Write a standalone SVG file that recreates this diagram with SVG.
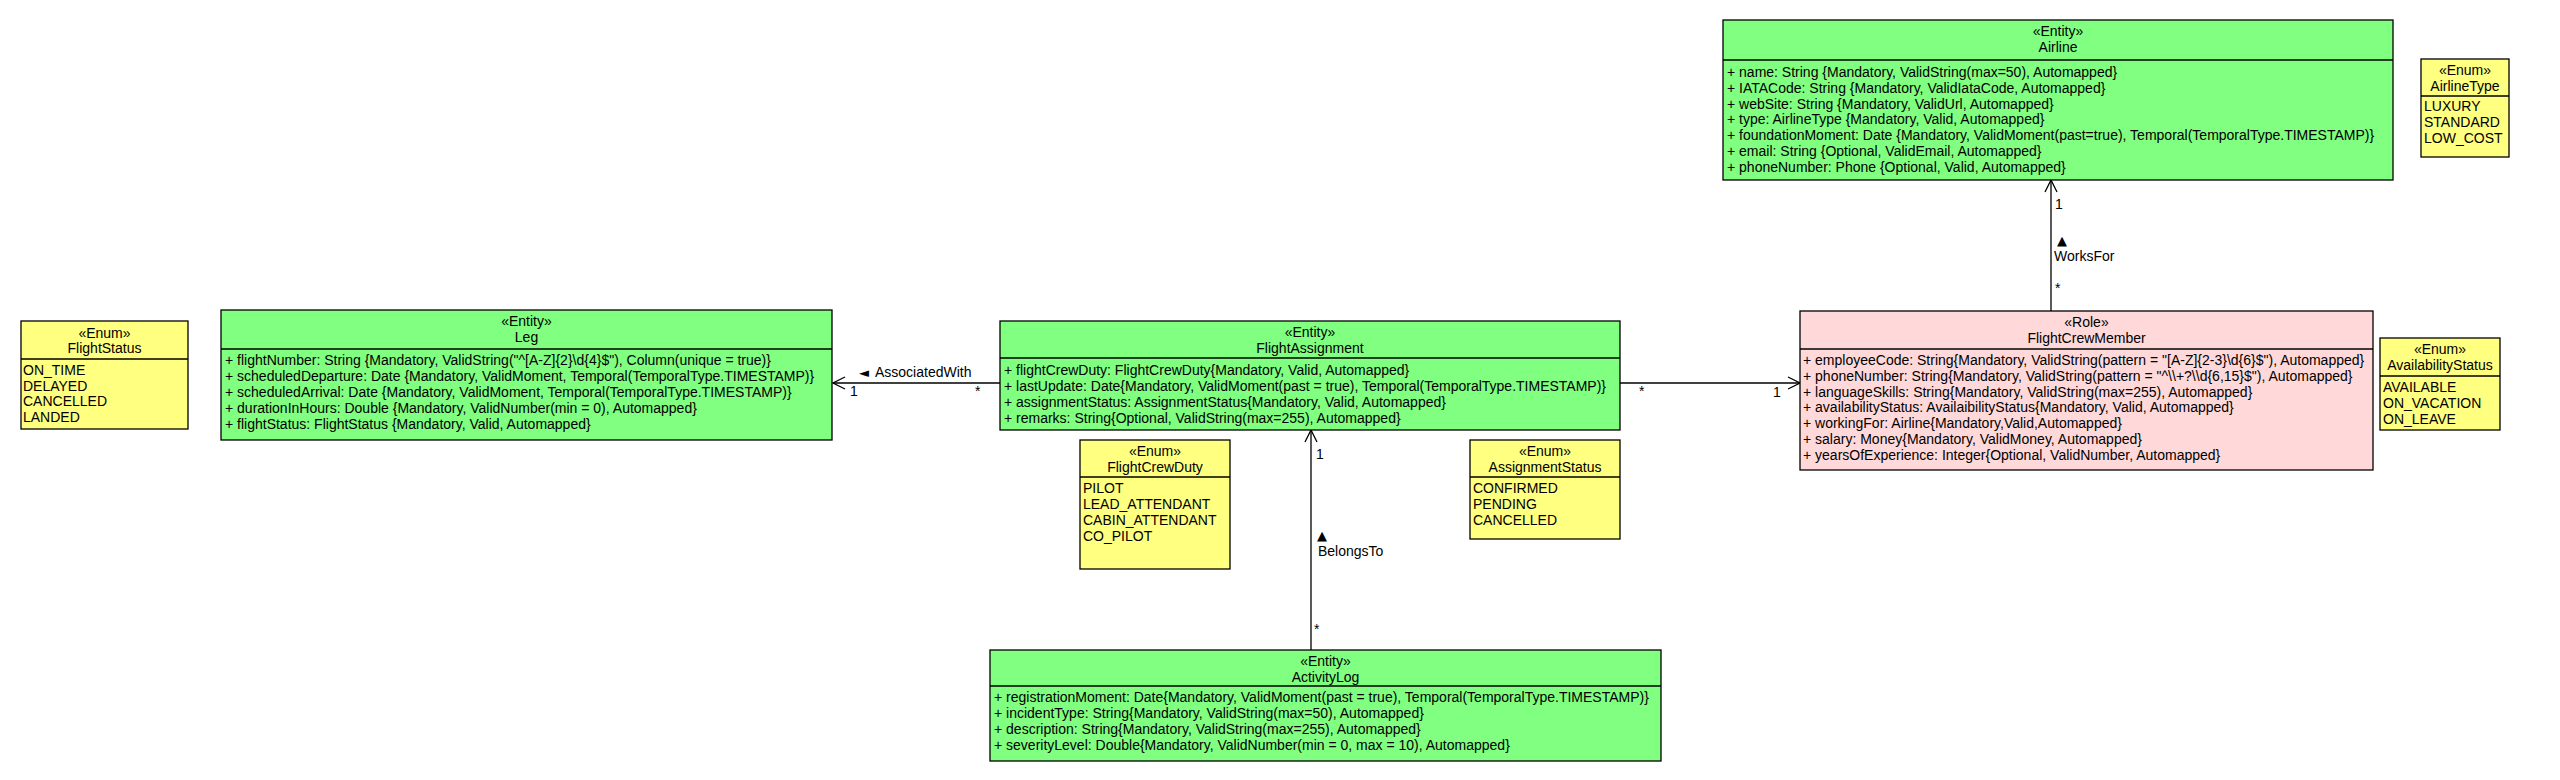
<svg xmlns="http://www.w3.org/2000/svg" width="2560" height="780" viewBox="0 0 2560 780">
<style>
text{font-family:"Liberation Sans",Arial,sans-serif;font-size:14px;fill:#000}
.c{text-anchor:middle}
.box{stroke:#000;stroke-width:1.3}
.ent{fill:#80FF80}
.enm{fill:#FFFF80}
.role{fill:#FFD9D9}
.div{stroke:#000;stroke-width:1.3}
.con{stroke:#000;stroke-width:1.3;fill:none}
.sym{font-family:"DejaVu Sans",sans-serif;font-size:13px}
</style>
<defs>
<marker id="open" markerUnits="userSpaceOnUse" viewBox="0 0 14 14" refX="13" refY="7" markerWidth="14" markerHeight="14" orient="auto">
<path d="M1,1 L13,7 L1,13" fill="none" stroke="#000" stroke-width="1.3"/>
</marker>
</defs>
<rect width="2560" height="780" fill="#fff"/>

<g id="connectors">
<line class="con" x1="1000" y1="383" x2="833" y2="383" marker-end="url(#open)"/>
<text x="859" y="377"><tspan class="sym">◄</tspan><tspan x="875">AssociatedWith</tspan></text>
<text x="850" y="396">1</text>
<text x="975" y="396">*</text>
<line class="con" x1="1620" y1="383" x2="1800" y2="383" marker-end="url(#open)"/>
<text x="1639" y="396">*</text>
<text x="1773" y="397">1</text>
<line class="con" x1="2051" y1="311" x2="2051" y2="180" marker-end="url(#open)"/>
<text x="2055" y="209">1</text>
<text class="sym" x="2057" y="245">▲</text>
<text x="2054" y="261">WorksFor</text>
<text x="2055" y="293">*</text>
<line class="con" x1="1311" y1="650" x2="1311" y2="430" marker-end="url(#open)"/>
<text x="1316" y="459">1</text>
<text class="sym" x="1317" y="540">▲</text>
<text x="1318" y="556">BelongsTo</text>
<text x="1314" y="634">*</text>
</g>

<g id="Airline">
<rect class="box ent" x="1723" y="20" width="670" height="160"/>
<line class="div" x1="1723" y1="60" x2="2393" y2="60"/>
<text class="c" x="2058" y="36">«Entity»</text>
<text class="c" x="2058" y="52">Airline</text>
<text x="1727" y="77">+ name: String {Mandatory, ValidString(max=50), Automapped}</text>
<text x="1727" y="92.8">+ IATACode: String {Mandatory, ValidIataCode, Automapped}</text>
<text x="1727" y="108.6">+ webSite: String {Mandatory, ValidUrl, Automapped}</text>
<text x="1727" y="124.4">+ type: AirlineType {Mandatory, Valid, Automapped}</text>
<text x="1727" y="140.2">+ foundationMoment: Date {Mandatory, ValidMoment(past=true), Temporal(TemporalType.TIMESTAMP)}</text>
<text x="1727" y="156">+ email: String {Optional, ValidEmail, Automapped}</text>
<text x="1727" y="171.8">+ phoneNumber: Phone {Optional, Valid, Automapped}</text>
</g>

<g id="AirlineType">
<rect class="box enm" x="2421" y="59" width="88" height="98"/>
<line class="div" x1="2421" y1="96" x2="2509" y2="96"/>
<text class="c" x="2465" y="75">«Enum»</text>
<text class="c" x="2465" y="91">AirlineType</text>
<text x="2424" y="111">LUXURY</text>
<text x="2424" y="127">STANDARD</text>
<text x="2424" y="143">LOW_COST</text>
</g>

<g id="FlightStatus">
<rect class="box enm" x="21" y="321" width="167" height="108"/>
<line class="div" x1="21" y1="359" x2="188" y2="359"/>
<text class="c" x="104.5" y="338">«Enum»</text>
<text class="c" x="104.5" y="353">FlightStatus</text>
<text x="23" y="375">ON_TIME</text>
<text x="23" y="390.7">DELAYED</text>
<text x="23" y="406.4">CANCELLED</text>
<text x="23" y="422.1">LANDED</text>
</g>

<g id="Leg">
<rect class="box ent" x="221" y="310" width="611" height="130"/>
<line class="div" x1="221" y1="349" x2="832" y2="349"/>
<text class="c" x="526.5" y="326">«Entity»</text>
<text class="c" x="526.5" y="342">Leg</text>
<text x="225" y="365">+ flightNumber: String {Mandatory, ValidString("^[A-Z]{2}\d{4}$"), Column(unique = true)}</text>
<text x="225" y="381">+ scheduledDeparture: Date {Mandatory, ValidMoment, Temporal(TemporalType.TIMESTAMP)}</text>
<text x="225" y="397">+ scheduledArrival: Date {Mandatory, ValidMoment, Temporal(TemporalType.TIMESTAMP)}</text>
<text x="225" y="413">+ durationInHours: Double {Mandatory, ValidNumber(min = 0), Automapped}</text>
<text x="225" y="429">+ flightStatus: FlightStatus {Mandatory, Valid, Automapped}</text>
</g>

<g id="FlightAssignment">
<rect class="box ent" x="1000" y="321" width="620" height="109"/>
<line class="div" x1="1000" y1="358" x2="1620" y2="358"/>
<text class="c" x="1310" y="337">«Entity»</text>
<text class="c" x="1310" y="353">FlightAssignment</text>
<text x="1004" y="375">+ flightCrewDuty: FlightCrewDuty{Mandatory, Valid, Automapped}</text>
<text x="1004" y="391">+ lastUpdate: Date{Mandatory, ValidMoment(past = true), Temporal(TemporalType.TIMESTAMP)}</text>
<text x="1004" y="407">+ assignmentStatus: AssignmentStatus{Mandatory, Valid, Automapped}</text>
<text x="1004" y="423">+ remarks: String{Optional, ValidString(max=255), Automapped}</text>
</g>

<g id="FlightCrewDuty">
<rect class="box enm" x="1080" y="440" width="150" height="129"/>
<line class="div" x1="1080" y1="477" x2="1230" y2="477"/>
<text class="c" x="1155" y="456">«Enum»</text>
<text class="c" x="1155" y="472">FlightCrewDuty</text>
<text x="1083" y="493">PILOT</text>
<text x="1083" y="509">LEAD_ATTENDANT</text>
<text x="1083" y="525">CABIN_ATTENDANT</text>
<text x="1083" y="541">CO_PILOT</text>
</g>

<g id="AssignmentStatus">
<rect class="box enm" x="1470" y="440" width="150" height="99"/>
<line class="div" x1="1470" y1="477" x2="1620" y2="477"/>
<text class="c" x="1545" y="456">«Enum»</text>
<text class="c" x="1545" y="472">AssignmentStatus</text>
<text x="1473" y="493">CONFIRMED</text>
<text x="1473" y="509">PENDING</text>
<text x="1473" y="525">CANCELLED</text>
</g>

<g id="ActivityLog">
<rect class="box ent" x="990" y="650" width="671" height="111"/>
<line class="div" x1="990" y1="686" x2="1661" y2="686"/>
<text class="c" x="1325.5" y="666">«Entity»</text>
<text class="c" x="1325.5" y="682">ActivityLog</text>
<text x="994" y="702">+ registrationMoment: Date{Mandatory, ValidMoment(past = true), Temporal(TemporalType.TIMESTAMP)}</text>
<text x="994" y="718">+ incidentType: String{Mandatory, ValidString(max=50), Automapped}</text>
<text x="994" y="734">+ description: String{Mandatory, ValidString(max=255), Automapped}</text>
<text x="994" y="750">+ severityLevel: Double{Mandatory, ValidNumber(min = 0, max = 10), Automapped}</text>
</g>

<g id="FlightCrewMember">
<rect class="box role" x="1800" y="311" width="573" height="159"/>
<line class="div" x1="1800" y1="349" x2="2373" y2="349"/>
<text class="c" x="2086.5" y="327">«Role»</text>
<text class="c" x="2086.5" y="343">FlightCrewMember</text>
<text x="1803" y="365">+ employeeCode: String{Mandatory, ValidString(pattern = "[A-Z]{2-3}\d{6}$"), Automapped}</text>
<text x="1803" y="380.8">+ phoneNumber: String{Mandatory, ValidString(pattern = "^\\+?\\d{6,15}$"), Automapped}</text>
<text x="1803" y="396.6">+ languageSkills: String{Mandatory, ValidString(max=255), Automapped}</text>
<text x="1803" y="412.4">+ availabilityStatus: AvailaibilityStatus{Mandatory, Valid, Automapped}</text>
<text x="1803" y="428.2">+ workingFor: Airline{Mandatory,Valid,Automapped}</text>
<text x="1803" y="444">+ salary: Money{Mandatory, ValidMoney, Automapped}</text>
<text x="1803" y="459.8">+ yearsOfExperience: Integer{Optional, ValidNumber, Automapped}</text>
</g>

<g id="AvailabilityStatus">
<rect class="box enm" x="2380" y="338" width="120" height="92"/>
<line class="div" x1="2380" y1="376" x2="2500" y2="376"/>
<text class="c" x="2440" y="354">«Enum»</text>
<text class="c" x="2440" y="370">AvailabilityStatus</text>
<text x="2383" y="392">AVAILABLE</text>
<text x="2383" y="408">ON_VACATION</text>
<text x="2383" y="424">ON_LEAVE</text>
</g>
</svg>
